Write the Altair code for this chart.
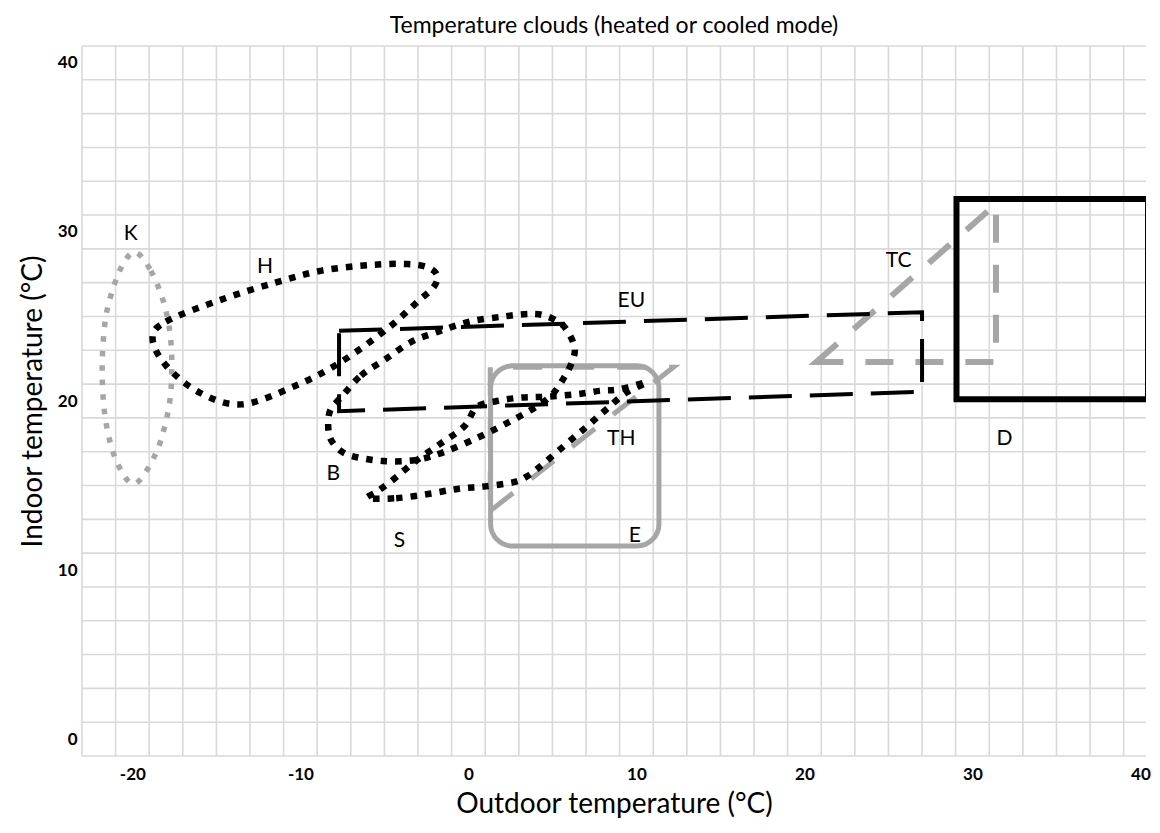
import altair as alt
import pandas as pd

# ---------------- data (degrees C) ----------------
# K : grey dotted cloud
k_x = [-19.8, -18.9, -18.1, -17.7, -17.7, -18.05, -18.7, -19.9, -20.95, -21.6, -21.8, -21.6, -21.1, -20.5]
k_y = [28.8, 27.7, 25.7, 23.4, 20.7, 18.6, 16.7, 15.1, 16.45, 18.9, 21.9, 24.85, 26.8, 28.2]

# H : black dotted cloud
h_x = [-18.8, -18.0, -14.7, -11.5, -8.8, -5.8, -3.6, -2.4, -1.85, -2.1, -3.0, -4.8, -7.6, -10.3, -13.5, -16.0, -18.0]
h_y = [23.7, 24.7, 26.0, 27.0, 27.7, 28.05, 28.1, 27.9, 27.4, 26.7, 25.9, 24.3, 22.3, 20.9, 19.8, 20.5, 22.1]

# B : black dotted cloud
b_x = [-7.6, -6.4, -4.9, -3.4, -1.8, 0.1, 2.1, 3.7, 4.7, 5.7, 6.3, 6.2, 5.7, 5.0, 4.1, 2.5, 0.7, -1.4, -3.2, -5.1, -6.75, -7.6, -8.2, -8.35, -8.2]
b_y = [20.2, 21.5, 22.5, 23.5, 24.1, 24.7, 25.0, 25.15, 25.0, 24.4, 23.25, 22.4, 21.4, 20.4, 19.7, 18.8, 17.9, 17.0, 16.5, 16.45, 16.7, 17.05, 17.75, 18.65, 19.5]

# S : black dotted cloud
s_x = [-6.0, -4.3, -2.4, -0.65, 1.0, 2.7, 3.5, 4.3, 5.7, 7.0, 8.2, 9.4, 10.6, 9.0, 7.8, 6.45, 4.5, 3.1, 1.7, 0.5, -0.25, -1.7, -3.2, -4.6, -5.5]
s_y = [14.25, 14.25, 14.5, 14.8, 14.95, 15.2, 15.55, 16.15, 17.35, 18.45, 19.5, 20.5, 21.1, 20.7, 20.6, 20.4, 20.25, 20.2, 20.0, 19.65, 18.5, 17.45, 16.4, 15.25, 14.6]

# EU : black dashed band
eu_x = [-7.7, 27.0, 27.0, -7.7]
eu_y = [24.15, 25.25, 20.55, 19.4]

# TC : grey dashed triangle
tc_x = [20.7, 31.4, 31.4]
tc_y = [22.3, 31.65, 22.3]

# TH : grey dashed triangle
th_x = [1.3, 12.2, 1.3]
th_y = [13.5, 22.0, 22.0]

# E : grey rounded box   (x1, x2, y1, y2)
e_box = [1.32, 11.34, 11.42, 22.08]
# D : black box
d_box = [29.05, 40.45, 20.1, 31.95]

# Cloud labels
lbl_text = ["K", "H", "EU", "TC", "B", "S", "TH", "E", "D"]
lbl_x = [-20.1, -12.1, 9.7, 25.6, -8.05, -4.1, 9.1, 9.9, 31.9]
lbl_y = [29.9, 27.9, 25.9, 28.3, 15.7, 11.7, 17.75, 12.0, 17.75]

# Axis ticks and grid
x_ticks = [-20, -10, 0, 10, 20, 30, 40]
y_ticks = [0, 10, 20, 30, 40]
x_grid = list(range(-23, 40, 2))
y_grid = list(range(-1, 42, 2))

# ---------------- chart ----------------
FONT = "Lato"
GREY = "#a6a6a6"
xs = alt.Scale(domain=[-23, 40.33], nice=False, zero=False)
ys = alt.Scale(domain=[-1, 41], nice=False, zero=False)

X = alt.X("x:Q", scale=xs, title="Outdoor temperature (°C)",
          axis=alt.Axis(values=x_ticks, grid=False, ticks=False, domain=False,
                        labelExpr="'' + datum.value", labelFlush=False,
                        labelFont=FONT, labelFontSize=17, labelFontWeight="bold",
                        labelColor="black", labelPadding=10,
                        titleFont=FONT, titleFontSize=28, titleFontWeight="normal",
                        titleColor="black", titleBaseline="alphabetic", titleY=56))
Y = alt.Y("y:Q", scale=ys, title="Indoor temperature (°C)",
          axis=alt.Axis(values=y_ticks, grid=False, ticks=False, domain=False,
                        labelExpr="'' + datum.value",
                        labelFont=FONT, labelFontSize=17, labelFontWeight="bold",
                        labelColor="black", labelPadding=5,
                        titleFont=FONT, titleFontSize=28, titleFontWeight="normal",
                        titleColor="black", titlePadding=10))


def frame(xv, yv):
    return pd.DataFrame({"x": xv, "y": yv, "i": list(range(len(xv)))})


def path(xv, yv, color, width, dash, interp):
    return alt.Chart(frame(xv, yv)).mark_line(
        color=color, strokeWidth=width, strokeDash=dash, strokeCap="butt",
        strokeJoin="miter", interpolate=interp, clip=True
    ).encode(x=X, y=Y, order=alt.Order("i:Q"))


def box(b, color, width, radius):
    df = pd.DataFrame({"x": [b[0]], "x2": [b[1]], "y": [b[2]], "y2": [b[3]]})
    kw = dict(fillOpacity=0, stroke=color, strokeWidth=width, clip=True)
    if radius:
        kw["cornerRadius"] = radius
    return alt.Chart(df).mark_rect(**kw).encode(x=X, x2="x2:Q", y=Y, y2="y2:Q")


vgrid = alt.Chart(pd.DataFrame({"x": x_grid})).mark_rule(
    color="#d9d9d9", strokeWidth=1.6).encode(x=X)
hgrid = alt.Chart(pd.DataFrame({"y": y_grid})).mark_rule(
    color="#d9d9d9", strokeWidth=1.6).encode(y=Y)

dot = [6.5, 8]
layers = [
    vgrid, hgrid,
    path(k_x, k_y, GREY, 5.5, [5.5, 9], "cardinal-closed"),
    box(e_box, GREY, 5, 22),
    path(th_x, th_y, GREY, 5, [29, 23], "linear-closed"),
    path(tc_x, tc_y, GREY, 6, [28, 22], "linear-closed"),
    path(eu_x, eu_y, "black", 4, [43, 18], "linear-closed"),
    path(h_x, h_y, "black", 6.5, dot, "cardinal-closed"),
    path(b_x, b_y, "black", 6.5, dot, "cardinal-closed"),
    path(s_x, s_y, "black", 6.5, dot, "cardinal-closed"),
    box(d_box, "black", 6, 0),
    alt.Chart(pd.DataFrame({"x": lbl_x, "y": lbl_y, "t": lbl_text})).mark_text(
        font=FONT, fontSize=21, color="black", align="center", baseline="middle"
    ).encode(x=X, y=Y, text="t:N"),
]

chart = alt.layer(*layers).properties(
    width=1064, height=710,
    padding={"left": 74, "top": 38, "right": 6, "bottom": 62},
    autosize=alt.AutoSizeParams(type="none"),
    title=alt.TitleParams("Temperature clouds (heated or cooled mode)", font=FONT,
                          fontSize=23, fontWeight="normal", color="black",
                          anchor="middle", offset=7),
).configure_view(stroke="transparent")

chart.save("out.html", embed_options={"renderer": "svg", "actions": False})
